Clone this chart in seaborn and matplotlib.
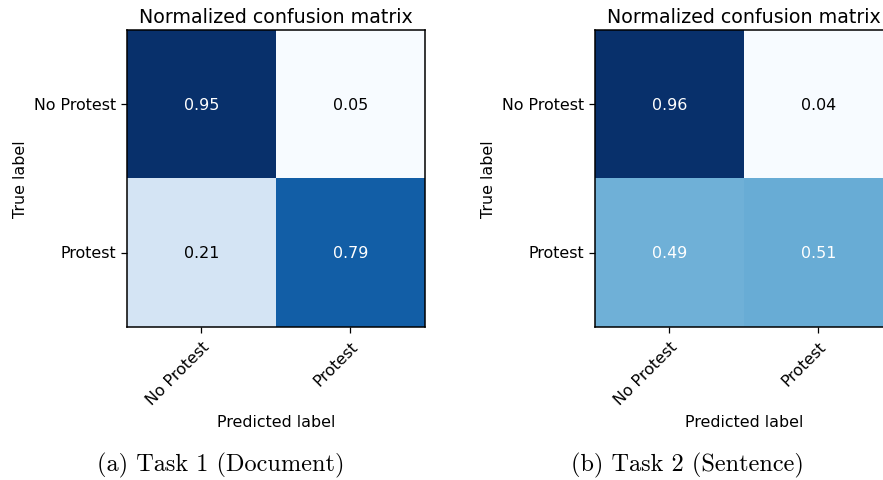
import numpy as np
import pandas as pd
import matplotlib
matplotlib.use("Agg")
import matplotlib.pyplot as plt
import seaborn as sns

classes = ["No Protest", "Protest"]
task1_values = [[0.95, 0.05], [0.21, 0.79]]
task2_values = [[0.96, 0.04], [0.49, 0.51]]
captions = ["(a) Task 1 (Document)", "(b) Task 2 (Sentence)"]

plt.rcParams["font.family"] = ["DejaVu Sans"]

fig = plt.figure(figsize=(8.83, 4.81), dpi=100)
positions = [[0.1438, 0.3181, 0.3375, 0.6175], [0.6738, 0.3181, 0.3375, 0.6175]]
caption_x = [0.25, 0.778]

for vals, pos, cap, cx in zip([task1_values, task2_values], positions, captions, caption_x):
    ax = fig.add_axes(pos)
    df = pd.DataFrame(vals, index=classes, columns=classes)
    arr = np.array(vals)
    sns.heatmap(df, ax=ax, cmap="Blues", cbar=False, annot=True, fmt=".2f",
                vmin=arr.min(), vmax=arr.max(),
                annot_kws={"fontsize": 11.4}, square=False)
    thresh = arr.max() / 2.0
    for t, v in zip(ax.texts, arr.flatten()):
        t.set_color("white" if v > thresh else "black")
    for s in ax.spines.values():
        s.set_visible(True)
        s.set_color("black")
        s.set_linewidth(1.1)
    ax.set_title("Normalized confusion matrix", fontsize=13.7, pad=6)
    ax.set_ylabel("True label", fontsize=11.4, labelpad=4)
    ax.set_xlabel("Predicted label", fontsize=11.4, labelpad=5)
    ax.tick_params(axis="both", labelsize=11.4, length=4, width=0.9, pad=4)
    ax.set_xticklabels(classes, rotation=45, ha="right", rotation_mode="anchor")
    ax.set_yticklabels(classes, rotation=0, va="center")
    fig.text(cx, 0.019, cap, fontsize=17.5, family="cmr10", ha="center", va="baseline")

fig.savefig("out.png", dpi=100)
